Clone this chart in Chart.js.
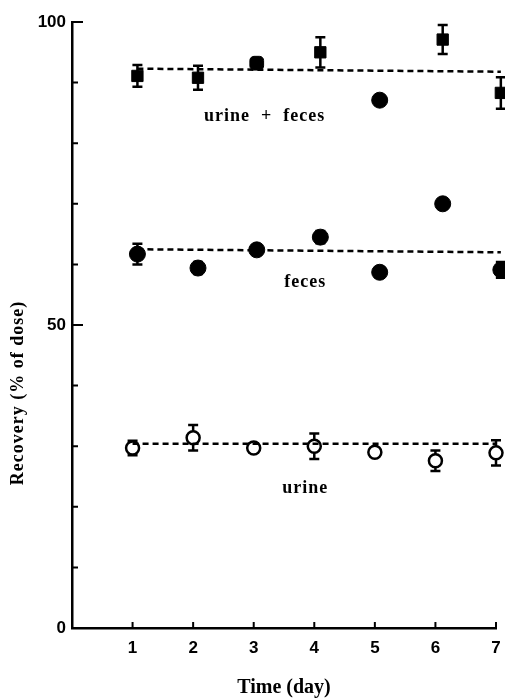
<!DOCTYPE html>
<html>
<head>
<meta charset="utf-8">
<script src="https://cdn.jsdelivr.net/npm/chart.js@4.4.0/dist/chart.umd.min.js"></script>
<style>
    body { margin: 0; background: #fff; }
</style>
</head>
<body>
<canvas id="recoveryChart" width="505" height="700"></canvas>
<script>
// Data
const urineDays = [1, 2, 3, 4, 5, 6, 7];
const otherDays = [1.08, 2.08, 3.05, 4.1, 5.08, 6.12, 7.08];

const totalValues = [91.1, 90.8, 93.2, 95.0, 87.1, 97.1, 88.3];
const totalErrors = [1.8, 2.0, 0, 2.5, 0, 2.4, 2.6];
const fecesValues = [61.7, 59.4, 62.4, 64.5, 58.7, 70.0, 59.1];
const fecesErrors = [1.7, 1.0, 0.6, 1.0, 0.8, 0, 1.3];
const urineValues = [29.7, 31.4, 29.7, 30.0, 29.0, 27.6, 28.9];
const urineErrors = [1.2, 2.1, 0.8, 2.1, 0.6, 1.7, 2.1];

// fitted (dashed) lines: [start, end]
const fitDaysOther = [1.08, 7.08];
const fitDaysUrine = [1, 7];
const totalFit = [92.3, 91.8];
const fecesFit = [62.5, 62.0];
const urineFit = [30.4, 30.4];

const xTickValues = [1, 2, 3, 4, 5, 6, 7];
const yLabelValues = [0, 50, 100];
const yMinorStep = 10;

const toPoints = (xs, ys) => xs.map((x, i) => ({ x: x, y: ys[i] }));

// error bars drawn behind the markers
const errorBars = {
    id: 'errorBars',
    beforeDatasetsDraw(chart) {
        const ctx = chart.ctx;
        const yScale = chart.scales.y;
        chart.data.datasets.forEach((ds, i) => {
            if (!ds.errors) return;
            const meta = chart.getDatasetMeta(i);
            ctx.save();
            ctx.strokeStyle = '#000';
            ctx.lineWidth = 2.5;
            meta.data.forEach((pt, j) => {
                const err = ds.errors[j];
                if (!err) return;
                const v = ds.data[j].y;
                const top = yScale.getPixelForValue(v + err);
                const bot = yScale.getPixelForValue(v - err);
                ctx.beginPath();
                ctx.moveTo(pt.x, top);
                ctx.lineTo(pt.x, bot);
                ctx.moveTo(pt.x - 5, top);
                ctx.lineTo(pt.x + 5, top);
                ctx.moveTo(pt.x - 5, bot);
                ctx.lineTo(pt.x + 5, bot);
                ctx.stroke();
            });
            ctx.restore();
        });
    }
};

// inward tick marks, series labels and y title
const decorations = {
    id: 'decorations',
    afterDraw(chart) {
        const ctx = chart.ctx;
        const x = chart.scales.x;
        const y = chart.scales.y;
        const area = chart.chartArea;
        ctx.save();
        ctx.strokeStyle = '#000';
        ctx.lineWidth = 2;
        ctx.beginPath();
        for (let v = 0; v <= 100; v += yMinorStep) {
            const py = y.getPixelForValue(v);
            const len = yLabelValues.includes(v) ? 11 : 6;
            ctx.moveTo(area.left, py);
            ctx.lineTo(area.left + len, py);
        }
        xTickValues.forEach(v => {
            const px = x.getPixelForValue(v);
            ctx.moveTo(px, area.bottom);
            ctx.lineTo(px, area.bottom - 6);
        });
        ctx.stroke();

        ctx.fillStyle = '#000';
        ctx.font = 'bold 18px "Liberation Serif"';
        ctx.textAlign = 'center';
        ctx.textBaseline = 'middle';
        if ('letterSpacing' in ctx) ctx.letterSpacing = '1px';
        ctx.fillText('urine  +  feces', x.getPixelForValue(3.18), y.getPixelForValue(84.4));
        ctx.fillText('feces', x.getPixelForValue(3.85), y.getPixelForValue(57.1));
        ctx.fillText('urine', x.getPixelForValue(3.85), y.getPixelForValue(23.1));

        ctx.translate(18, 393);
        ctx.rotate(-Math.PI / 2);
        ctx.font = 'bold 18px "Liberation Serif"';
        ctx.fillText('Recovery (% of dose)', 0, 0);
        ctx.restore();
    }
};

const dashed = {
    type: 'line',
    borderColor: '#000',
    borderWidth: 2.5,
    borderDash: [6, 4],
    pointRadius: 0,
    fill: false
};

new Chart(document.getElementById('recoveryChart'), {
    type: 'scatter',
    data: {
        datasets: [{
            ...dashed,
            data: toPoints(fitDaysOther, totalFit)
        }, {
            ...dashed,
            data: toPoints(fitDaysOther, fecesFit)
        }, {
            ...dashed,
            data: toPoints(fitDaysUrine, urineFit)
        }, {
            label: 'urine + feces',
            data: toPoints(otherDays, totalValues),
            errors: totalErrors,
            pointStyle: ['rect', 'rect', 'rectRounded', 'rect', 'circle', 'rect', 'rect'],
            pointRadius: 8,
            backgroundColor: '#000',
            borderColor: '#000',
            borderWidth: 1
        }, {
            label: 'feces',
            data: toPoints(otherDays, fecesValues),
            errors: fecesErrors,
            pointStyle: 'circle',
            pointRadius: 8,
            backgroundColor: '#000',
            borderColor: '#000',
            borderWidth: 1
        }, {
            label: 'urine',
            data: toPoints(urineDays, urineValues),
            errors: urineErrors,
            pointStyle: 'circle',
            pointRadius: 6.5,
            backgroundColor: '#fff',
            borderColor: '#000',
            borderWidth: 2.5
        }]
    },
    options: {
        responsive: false,
        animation: false,
        clip: false,
        layout: {
            padding: { left: 0, right: 9, top: 22, bottom: 0 }
        },
        plugins: {
            legend: { display: false },
            tooltip: { enabled: false }
        },
        scales: {
            x: {
                type: 'linear',
                min: 0,
                max: 7,
                afterFit: s => { s.height = 72; s.paddingLeft = 0; s.paddingRight = 0; },
                afterBuildTicks: s => { s.ticks = xTickValues.map(v => ({ value: v })); },
                grid: { display: false, drawTicks: false },
                border: { display: true, color: '#000', width: 2.5 },
                ticks: {
                    padding: 10,
                    color: '#000',
                    font: { family: 'Liberation Sans', weight: 'bold', size: 17 }
                },
                title: {
                    display: true,
                    text: 'Time (day)',
                    color: '#000',
                    padding: { top: 0, bottom: 0 },
                    font: { family: 'Liberation Serif', weight: 'bold', size: 20 }
                }
            },
            y: {
                min: 0,
                max: 100,
                afterFit: s => { s.width = 72; s.paddingTop = 0; s.paddingBottom = 0; },
                afterBuildTicks: s => { s.ticks = yLabelValues.map(v => ({ value: v })); },
                grid: { display: false, drawTicks: false },
                border: { display: true, color: '#000', width: 2.5 },
                ticks: {
                    padding: 6,
                    color: '#000',
                    font: { family: 'Liberation Sans', weight: 'bold', size: 17 }
                }
            }
        }
    },
    plugins: [errorBars, decorations]
});
</script>
</body>
</html>
